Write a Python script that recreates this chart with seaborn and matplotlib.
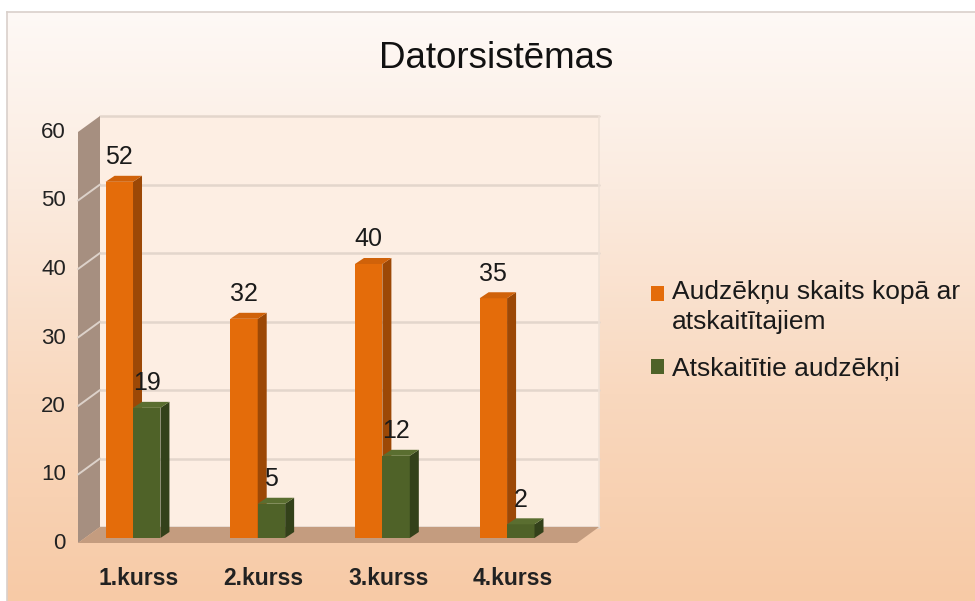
import numpy as np
import pandas as pd
import seaborn as sns
import matplotlib.pyplot as plt
from matplotlib.patches import Polygon, Patch
from matplotlib.colors import LinearSegmentedColormap
from matplotlib.transforms import ScaledTranslation

# data
courses = ["1.kurss", "2.kurss", "3.kurss", "4.kurss"]
total_students = [52, 32, 40, 35]
expelled_students = [19, 5, 12, 2]
series_names = ["Audzēkņu skaits kopā ar atskaitītajiem", "Atskaitītie audzēkņi"]
legend_labels = ["Audzēkņu skaits kopā ar\natskaitītajiem", "Atskaitītie audzēkņi"]
y_ticks = [0, 10, 20, 30, 40, 50, 60]

df = pd.DataFrame({
    "kurss": courses * 2,
    "serija": [series_names[0]] * len(courses) + [series_names[1]] * len(courses),
    "skaits": total_students + expelled_students,
})

front_colors = ["#E46C0A", "#4F6228"]
side_colors = ["#9C4806", "#33411A"]
top_colors = ["#D0620A", "#5A6E30"]

sns.set_theme(style="white")
plt.rcParams["font.family"] = ["Liberation Sans", "DejaVu Sans"]

fig = plt.figure(figsize=(9.75, 6.01), dpi=100)
fig.patch.set_facecolor("white")

# slide-like gradient background
bg = fig.add_axes([7 / 975, 0, 968 / 975, 589 / 601], zorder=-10)
cmap = LinearSegmentedColormap.from_list(
    "bg", [(0, "#fef9f6"), (0.3, "#fbebdf"), (0.65, "#f9d8be"), (1, "#f7caa6")])
bg.imshow(np.linspace(0, 1, 256).reshape(-1, 1), cmap=cmap, aspect="auto",
          extent=[0, 1, 0, 1])
bg.set_xticks([])
bg.set_yticks([])
for s in bg.spines.values():
    s.set_color("#d9d0cb")
    s.set_linewidth(1.2)
bg.spines["right"].set_visible(False)
bg.spines["bottom"].set_visible(False)

# main plot (plane of the bar fronts)
ax = fig.add_axes([88 / 975, 63 / 601, 499 / 975, 411 / 601])
ax.set_facecolor("none")
sns.barplot(data=df, x="kurss", y="skaits", hue="serija", hue_order=series_names,
            palette=front_colors, width=0.44, gap=0, saturation=1, legend=False, ax=ax)
x0, x1 = -0.361, 3.641
ax.set_xlim(x0, x1)
ax.set_ylim(0, 60)

p0 = ax.transData.transform((0, 0))
p1 = ax.transData.transform((1, 1))
sx, sy = p1[0] - p0[0], p1[1] - p0[1]


def off(x, y, dx, dy):
    # shift a data point by a pixel offset (fake 3D depth)
    return (x + dx / sx, y + dy / sy)


back = (12, 11)
front = (-10, -5)

# back wall + gridlines
ax.add_patch(Polygon([off(x0, 0, *back), off(x1, 0, *back), off(x1, 60, *back), off(x0, 60, *back)],
                     closed=True, facecolor="#fdeee3", edgecolor="none", zorder=0.5, clip_on=False))
for v in y_ticks:
    a, b = off(x0, v, *back), off(x1, v, *back)
    ax.plot([a[0], b[0]], [a[1], b[1]], color="#e3d6cc", lw=1.8, zorder=0.6, clip_on=False)
a, b = off(x1, 0, *back), off(x1, 60, *back)
ax.plot([a[0], b[0]], [a[1], b[1]], color="#efe2d8", lw=1.2, zorder=0.6, clip_on=False)

# left wall
ax.add_patch(Polygon([off(x0, 0, *front), off(x0, 60, *front), off(x0, 60, *back), off(x0, 0, *back)],
                     closed=True, facecolor="#a68f80", edgecolor="none", zorder=0.7, clip_on=False))
for v in y_ticks[1:-1]:
    a, b = off(x0, v, *front), off(x0, v, *back)
    ax.plot([a[0], b[0]], [a[1], b[1]], color="#ddd2ca", lw=1.4, zorder=0.8, clip_on=False)

# floor
ax.add_patch(Polygon([off(x0, 0, *front), off(x1, 0, *front), off(x1, 0, *back), off(x0, 0, *back)],
                     closed=True, facecolor="#c49c7f", edgecolor="none", zorder=0.9, clip_on=False))

# 3D faces of the bars
depth = (9, 6)
bars = []
for i, cont in enumerate(ax.containers):
    for bar in cont:
        bars.append((bar.get_x(), i, bar))
bars.sort(key=lambda t: t[0])
for k, (_, i, bar) in enumerate(bars):
    z = 2 + k * 0.01
    bx0 = bar.get_x()
    bx1 = bx0 + bar.get_width()
    h = bar.get_height()
    bar.set_zorder(z)
    bar.set_edgecolor("none")
    ax.add_patch(Polygon([(bx1, 0), (bx1, h), off(bx1, h, *depth), off(bx1, 0, *depth)],
                         closed=True, facecolor=side_colors[i], edgecolor="none", zorder=z + 0.001))
    ax.add_patch(Polygon([(bx0, h), (bx1, h), off(bx1, h, *depth), off(bx0, h, *depth)],
                         closed=True, facecolor=top_colors[i], edgecolor="none", zorder=z + 0.002))

for cont in ax.containers:
    for t in ax.bar_label(cont, padding=9, fontsize=18, color="#1a1a1a"):
        t.set_zorder(10)
        t.set_transform(t.get_transform() + ScaledTranslation(0.03, 0, fig.dpi_scale_trans))

# axes text
ax.set_xlabel("")
ax.set_ylabel("")
ax.set_yticks(y_ticks)
ax.tick_params(axis="y", length=0, pad=16, labelsize=16, labelcolor="#222222")
ax.tick_params(axis="x", length=0, pad=21, labelsize=16.5, labelcolor="#222222")
for lab in ax.get_xticklabels():
    lab.set_fontweight("bold")
    lab.set_transform(lab.get_transform() + ScaledTranslation(0.06, 0, fig.dpi_scale_trans))
for lab in ax.get_yticklabels():
    lab.set_transform(lab.get_transform() + ScaledTranslation(0, -0.03, fig.dpi_scale_trans))
sns.despine(ax=ax, left=True, bottom=True)
ax.grid(False)

fig.text(496 / 975, 1 - 59 / 601, "Datorsistēmas", ha="center", va="center",
         fontsize=26.5, color="#111111")

handles = [Patch(facecolor=c, edgecolor="none") for c in front_colors]
leg = fig.legend(handles, legend_labels, loc="upper left",
                 bbox_to_anchor=(651 / 975, 1 - 280 / 601), frameon=False,
                 fontsize=19, handlelength=0.5, handleheight=0.5,
                 handletextpad=0.3, labelspacing=0.85, borderpad=0, borderaxespad=0)
for t in leg.get_texts():
    t.set_color("#1a1a1a")
    t.set_linespacing(1.32)

# put the first legend square next to the first text line
fig.canvas.draw()
tb = leg.get_texts()[0].get_window_extent()
hb = leg.legend_handles[0].get_window_extent()
line_h = tb.height / 2
shift_px = (tb.y1 - line_h / 2) - (hb.y0 + hb.height / 2)
rect = leg.legend_handles[0]
rect.set_y(rect.get_y() + shift_px * 72 / fig.dpi)

fig.savefig("out.png", dpi=100)
